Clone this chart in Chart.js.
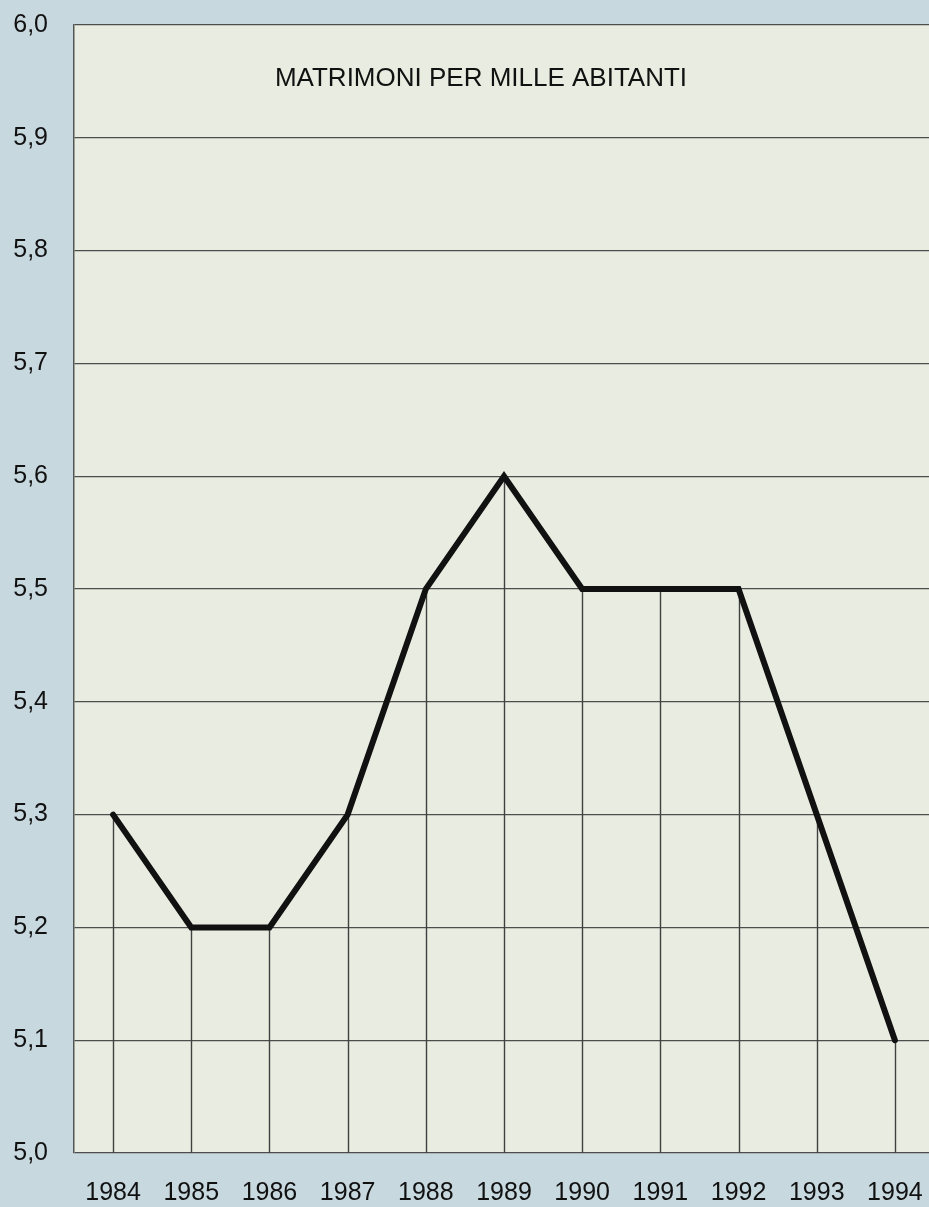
<!DOCTYPE html>
<html>
<head>
<meta charset="utf-8">
<script src="https://cdn.jsdelivr.net/npm/chart.js@4.4.1/dist/chart.umd.min.js"></script>
<style>
  html, body { margin: 0; padding: 0; overflow: hidden; background: #c8d8df; }
  #wrap { position: absolute; left: 0; top: 0; width: 940px; height: 1207px; }
</style>
</head>
<body>
<div id="wrap"><canvas id="myChart" width="940" height="1207"></canvas></div>
<script>
  // data
  const anni = ["1984", "1985", "1986", "1987", "1988", "1989", "1990", "1991", "1992", "1993", "1994"];
  const matrimoni = [5.3, 5.2, 5.2, 5.3, 5.5, 5.6, 5.5, 5.5, 5.5, 5.3, 5.1];
  const yMin = 5.0;
  const yMax = 6.0;
  const yStep = 0.1;
  const titolo = "MATRIMONI PER MILLE ABITANTI";

  const sfondo = {
    id: "sfondo",
    beforeDraw(chart) {
      const { ctx, chartArea } = chart;
      ctx.save();
      ctx.fillStyle = "#c8d8df";
      ctx.fillRect(0, 0, chart.width, chart.height);
      ctx.fillStyle = "#e9ece0";
      ctx.fillRect(chartArea.left, chartArea.top, chartArea.right - chartArea.left, chartArea.bottom - chartArea.top);
      ctx.restore();
    },
  };

  // vertical lines from each point down to the base
  const lineeVerticali = {
    id: "lineeVerticali",
    beforeDatasetsDraw(chart) {
      const { ctx, chartArea } = chart;
      const meta = chart.getDatasetMeta(0);
      ctx.save();
      ctx.strokeStyle = "#404040";
      ctx.lineWidth = 1.4;
      meta.data.forEach((pt) => {
        ctx.beginPath();
        ctx.moveTo(Math.round(pt.x) + 0.5, pt.y);
        ctx.lineTo(Math.round(pt.x) + 0.5, chartArea.bottom);
        ctx.stroke();
      });
      ctx.restore();
    },
  };

  const titoloInterno = {
    id: "titoloInterno",
    afterDraw(chart) {
      const { ctx } = chart;
      ctx.save();
      ctx.fillStyle = "#111";
      ctx.font = "26px 'Liberation Sans', Arial, sans-serif";
      ctx.textAlign = "center";
      ctx.textBaseline = "alphabetic";
      ctx.fillText(titolo, 481, 86);
      ctx.restore();
    },
  };

  const ctx = document.getElementById("myChart").getContext("2d");
  const chart = new Chart(ctx, {
    type: "line",
    data: {
      labels: anni,
      datasets: [
        {
          label: titolo,
          data: matrimoni,
          borderColor: "#111",
          borderWidth: 6,
          tension: 0,
          fill: false,
          pointRadius: 0,
          borderCapStyle: "round",
          borderJoinStyle: "miter",
        },
      ],
    },
    options: {
      responsive: false,
      animation: false,
      layout: { padding: { top: 25, right: 6, left: 0, bottom: 0 } },
      plugins: {
        legend: { display: false },
        tooltip: { enabled: false },
        title: { display: false },
      },
      scales: {
        x: {
          offset: true,
          grid: { display: false, drawTicks: false },
          border: { display: false },
          ticks: {
            color: "#111",
            padding: 25,
            font: { family: "'Liberation Sans', Arial, sans-serif", size: 25 },
            maxRotation: 0,
            autoSkip: false,
          },
          afterFit: (scale) => {
            scale.height = 54;
            scale.paddingLeft = 0;
            scale.paddingRight = 0;
          },
        },
        y: {
          min: yMin,
          max: yMax,
          grid: { color: "#4d4d4d", lineWidth: 1.3, drawTicks: false },
          border: { display: true, color: "#555", width: 1.5 },
          ticks: {
            stepSize: yStep,
            color: "#111",
            padding: 26,
            font: { family: "'Liberation Sans', Arial, sans-serif", size: 25 },
            callback: (v) => Number(v).toFixed(1).replace(".", ","),
          },
          afterFit: (scale) => {
            scale.width = 74;
            scale.paddingTop = 0;
            scale.paddingBottom = 0;
          },
        },
      },
    },
    plugins: [sfondo, lineeVerticali, titoloInterno],
  });
</script>
</body>
</html>
